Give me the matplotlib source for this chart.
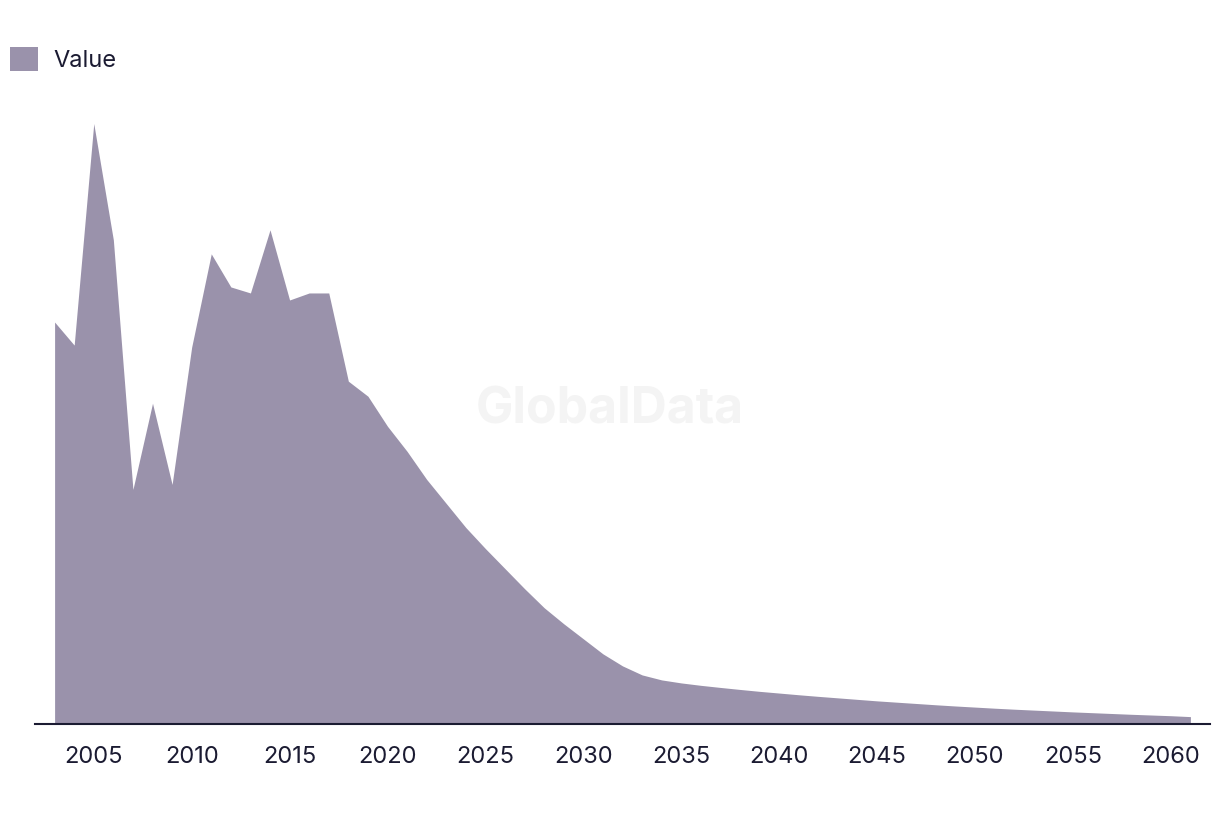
import numpy as np
import matplotlib.pyplot as plt

# ── 데이터 ───────────────────────────────────────────────────────────────────
years = list(range(2003, 2062))
values = [
    401, 378, 599, 483, 234, 320, 239, 376, 469, 436,       # 2003-2012
    430, 493, 423, 430, 430, 342, 327, 297, 272, 244,       # 2013-2022
    220, 196, 175, 155, 135, 116, 100, 85, 70, 58,          # 2023-2032
    49, 44, 41, 38.6, 36.5, 34.5, 32.6, 30.9, 29.2, 27.6,   # 2033-2042
    26.1, 24.6, 23.1, 21.8, 20.5, 19.2, 18, 16.9, 15.8, 14.8,  # 2043-2052
    13.9, 13, 12.1, 11.3, 10.5, 9.7, 9, 8.3, 7.4,           # 2053-2061
]
tick_years = list(range(2005, 2061, 5))
series_name = "Value"

FILL = "#9a92ab"
INK = "#1b1b32"

plt.rcParams["font.family"] = ["Inter", "DejaVu Sans"]

fig = plt.figure(figsize=(12.2, 8.16), dpi=100)
ax = fig.add_axes([0.0287, 0.1127, 0.9631, 0.7617])

ax.fill_between(years, values, 0, color=FILL, linewidth=0, label=series_name, zorder=2)

# 워터마크
ax.text(0.5, 0.497, "GlobalData", transform=fig.transFigure, ha="center", va="center",
        fontsize=36, fontweight="bold", color="#f4f4f4", zorder=0)

ax.set_xlim(2002, 2062)
ax.set_ylim(0, 620)
ax.set_xticks(tick_years)
ax.set_xticklabels([str(y) for y in tick_years], fontsize=17, color=INK)
ax.set_yticks([])
ax.tick_params(axis="x", length=0, pad=16)

for s in ["top", "right", "left"]:
    ax.spines[s].set_visible(False)
ax.spines["bottom"].set_color(INK)
ax.spines["bottom"].set_linewidth(1.5)
ax.spines["bottom"].set_zorder(3)

fig.legend(loc="upper left", bbox_to_anchor=(0.0082, 0.943), frameon=False,
           fontsize=17, handlelength=1.2, handleheight=1.2, handletextpad=0.62,
           borderpad=0, borderaxespad=0, labelcolor=INK)

fig.savefig("out.png", dpi=100)
